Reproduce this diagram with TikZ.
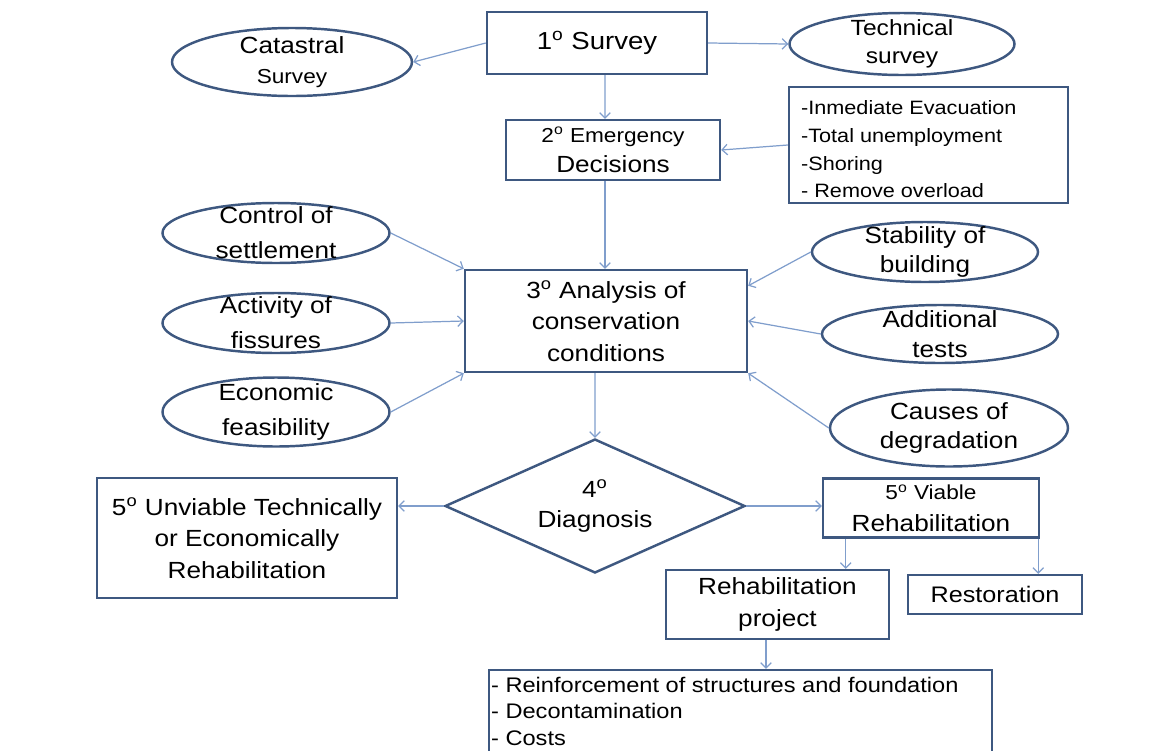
\documentclass[tikz,border=0pt]{standalone}
\usepackage{fontspec}
\setmainfont{Liberation Sans}[FakeStretch=1.12]
\usetikzlibrary{shapes.geometric,arrows.meta,positioning}
\begin{document}
\begin{tikzpicture}[
  box/.style = {draw = boxblue, line width = 1.4pt, inner sep = 0pt, align = center, font = \fontsize{13.3}{18}\selectfont},
  ell/.style = {draw = boxblue, line width = 1.4pt, ellipse, inner sep = 0pt},
  lbl/.style = {align = center, inner sep = 0pt, font = \fontsize{13.3}{19.8}\selectfont},
  rlbl/.style = {align = center, inner sep = 0pt, font = \fontsize{13.3}{16.8}\selectfont},
  lst/.style = {align = left, anchor = north west},
  link/.style = {draw = arrblue, line width = 0.7pt, -{Straight Barb[length = 3pt, width = 6pt]}}
]
\definecolor{boxblue}{RGB}{62,88,128}
\definecolor{arrblue}{RGB}{128,158,204}
\useasboundingbox (0,0) rectangle (23.28,-15);
\node[box, minimum width = 4.4cm, minimum height = 1.24cm, font = \fontsize{14}{17}\selectfont] (survey) at (11.94,-0.86) {1\textsuperscript{o} Survey};
\node[ell, minimum width = 4.8cm, minimum height = 1.36cm, label = {[lbl, font = \fontsize{13.3}{17}\selectfont]center:{Catastral\\{\fontsize{11.5}{17}\selectfont Survey}}}] (cat) at (5.84,-1.24) {};
\node[ell, minimum width = 4.5cm, minimum height = 1.24cm, label = {[lbl, font = \fontsize{12.5}{15.9}\selectfont]center:{Technical\\survey}}] (tech) at (18.04,-0.88) {};
\node[box, minimum width = 4.28cm, minimum height = 1.2cm, font = \fontsize{13.3}{17.6}\selectfont] (emerg) at (12.26,-3.0) {{\fontsize{11.5}{17.6}\selectfont 2\textsuperscript{o} Emergency}\\Decisions};
\node[box, minimum width = 5.58cm, minimum height = 2.32cm, label = {[lst, inner xsep = 0.26cm, inner ysep = 0.28cm, font = \fontsize{11}{15.9}\selectfont]north west:{-Inmediate Evacuation\\-Total unemployment\\-Shoring\\- Remove overload}}] (evac) at (18.57,-2.9) {};
\node[box, minimum width = 5.64cm, minimum height = 2.04cm, font = \fontsize{13.3}{17.9}\selectfont] (ana) at (12.12,-6.42) {3\textsuperscript{o} Analysis of\\conservation\\conditions};
\foreach \nm/\yy/\hh/\txt in {ctrl/4.66/1.2/{Control of\\settlement}, act/6.46/1.2/{Activity of\\fissures}, eco/8.24/1.38/{Economic\\feasibility}}
  \node[ell, minimum width = 4.54cm, minimum height = \hh cm, label = {[lbl]center:\txt}] (\nm) at (5.52,-\yy) {};
\foreach \nm/\xx/\yy/\ww/\hh/\txt in {stab/18.5/5.04/4.52/1.2/{Stability of\\building}, add/18.8/6.68/4.72/1.16/{Additional\\tests}, cause/18.98/8.56/4.76/1.54/{Causes of\\degradation}}
  \node[ell, minimum width = \ww cm, minimum height = \hh cm, label = {[rlbl]center:\txt}] (\nm) at (\xx,-\yy) {};
\node[draw = boxblue, line width = 1.4pt, diamond, aspect = 2.2, inner sep = 0pt, minimum width = 6cm, minimum height = 2.68cm, align = center, font = \fontsize{13.3}{17}\selectfont] (diag) at (11.9,-10.12) {4\textsuperscript{o}\\Diagnosis};
\node[box, minimum width = 6cm, minimum height = 2.4cm] (unv) at (4.94,-10.76) {5\textsuperscript{o} Unviable Technically\\or Economically\\Rehabilitation};
\node[box, minimum width = 4.32cm, minimum height = 1.18cm] (via) at (18.62,-10.16) {{\fontsize{11.5}{18}\selectfont 5\textsuperscript{o} Viable}\\Rehabilitation};
\node[box, minimum width = 4.46cm, minimum height = 1.38cm] (rehab) at (15.55,-12.09) {Rehabilitation\\project};
\node[box, minimum width = 3.48cm, minimum height = 0.78cm, font = \fontsize{12.8}{16}\selectfont] (rest) at (19.9,-11.89) {Restoration};
\node[box, minimum width = 10.06cm, minimum height = 1.64cm, label = {[lst, inner xsep = 0.06cm, inner ysep = 0.16cm, font = \fontsize{12}{15}\selectfont]north west:{- Reinforcement of structures and foundation\\- Decontamination\\- Costs}}] (works) at (14.81,-14.22) {};
\coordinate (v1) at ([xshift = 0.48cm]via.south west);
\coordinate (v2) at ([xshift = -0.04cm]via.south east);
\draw[link] (survey.west) -- (cat.east);
\draw[link] (survey.east) -- (tech.west);
\draw[link] ([xshift = 0.16cm]survey.south) -- ([xshift = -0.16cm]emerg.north);
\draw[link] (evac.west) -- (emerg.east);
\draw[link] ([xshift = -0.16cm]emerg.south) -- ([xshift = -0.02cm]ana.north);
\draw[link] (ctrl.east) -- (ana.north west);
\draw[link] (act.east) -- (ana.west);
\draw[link] (eco.east) -- (ana.south west);
\draw[link] (stab.west) -- ([yshift = -0.34cm]ana.north east);
\draw[link] (add.west) -- (ana.east);
\draw[link] (cause.west) -- (ana.south east);
\draw[link] ([xshift = -0.22cm]ana.south) -- (diag.north);
\draw[link] (diag.west) -- (diag.west -| unv.east);
\draw[link] (diag.east) -- (diag.east -| via.west);
\draw[link] (v1) -- (v1 |- rehab.north);
\draw[link] (v2) -- (v2 |- rest.north);
\draw[link] ([xshift = -0.23cm]rehab.south) -- ([xshift = -0.23cm]rehab.south |- works.north);
\end{tikzpicture}
\end{document}
